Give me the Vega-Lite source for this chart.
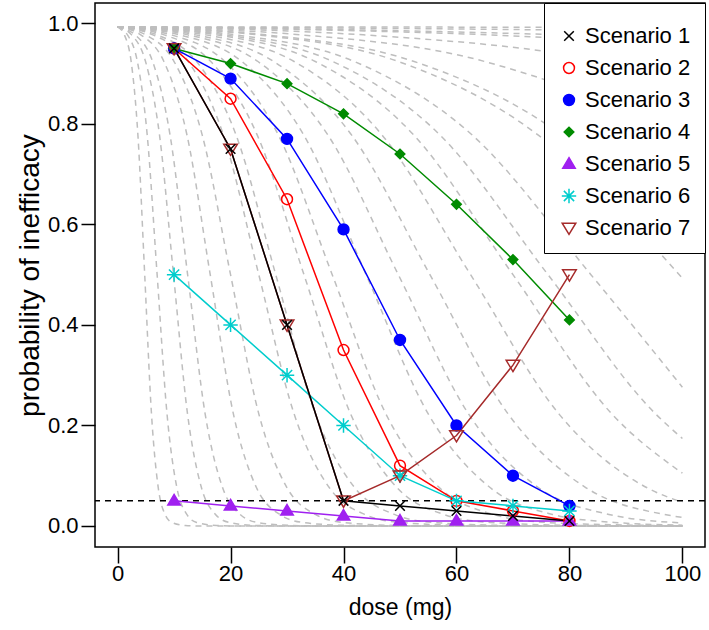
{
  "$schema": "https://vega.github.io/schema/vega-lite/v6.json",
  "width": 610,
  "height": 544,
  "autosize": {"type": "none"},
  "padding": {"left": 95, "top": 3, "right": 4, "bottom": 83},
  "background": "white",
  "config": {
    "font": "Liberation Sans",
    "view": {"stroke": "black", "strokeWidth": 1.5},
    "axis": {"grid": false, "domain": false, "tickColor": "black", "tickWidth": 1.5, "labelColor": "black", "titleColor": "black", "labelFont": "Liberation Sans", "titleFont": "Liberation Sans", "labelFontSize": 22, "titleFontSize": 23, "titleFontWeight": "normal"}
  },
  "datasets": {
    "curves": [
      {"c":"A","d":0,"p":0.993},{"c":"A","d":1.2,"p":0.977},{"c":"A","d":2.4,"p":0.924},{"c":"A","d":3.6,"p":0.777},{"c":"A","d":4.8,"p":0.5},{"c":"A","d":6,"p":0.223},{"c":"A","d":7.2,"p":0.076},{"c":"A","d":8.4,"p":0.023},{"c":"A","d":9.6,"p":0.007},{"c":"A","d":12,"p":0.001},{"c":"A","d":14.4,"p":0.0001},{"c":"A","d":100,"p":0},
      {"c":"B","d":0,"p":0.993},{"c":"B","d":1.75,"p":0.977},{"c":"B","d":3.5,"p":0.924},{"c":"B","d":5.25,"p":0.777},{"c":"B","d":7,"p":0.5},{"c":"B","d":8.75,"p":0.223},{"c":"B","d":10.5,"p":0.076},{"c":"B","d":12.25,"p":0.023},{"c":"B","d":14,"p":0.007},{"c":"B","d":17.5,"p":0.001},{"c":"B","d":21,"p":0.0001},{"c":"B","d":100,"p":0},
      {"c":"C","d":0,"p":0.993},{"c":"C","d":2.48,"p":0.977},{"c":"C","d":4.95,"p":0.924},{"c":"C","d":7.43,"p":0.777},{"c":"C","d":9.9,"p":0.5},{"c":"C","d":12.38,"p":0.223},{"c":"C","d":14.85,"p":0.076},{"c":"C","d":17.33,"p":0.023},{"c":"C","d":19.8,"p":0.007},{"c":"C","d":24.75,"p":0.001},{"c":"C","d":29.7,"p":0.0001},{"c":"C","d":100,"p":0},
      {"c":"D","d":0,"p":0.993},{"c":"D","d":3.1,"p":0.977},{"c":"D","d":6.2,"p":0.924},{"c":"D","d":9.3,"p":0.777},{"c":"D","d":12.4,"p":0.5},{"c":"D","d":15.5,"p":0.223},{"c":"D","d":18.6,"p":0.076},{"c":"D","d":21.7,"p":0.023},{"c":"D","d":24.8,"p":0.007},{"c":"D","d":31,"p":0.001},{"c":"D","d":37.2,"p":0.0001},{"c":"D","d":100,"p":0},
      {"c":"E","d":0,"p":0.993},{"c":"E","d":4.1,"p":0.977},{"c":"E","d":8.2,"p":0.924},{"c":"E","d":12.3,"p":0.777},{"c":"E","d":16.4,"p":0.5},{"c":"E","d":20.5,"p":0.223},{"c":"E","d":24.6,"p":0.076},{"c":"E","d":28.7,"p":0.023},{"c":"E","d":32.8,"p":0.007},{"c":"E","d":41,"p":0.001},{"c":"E","d":49.2,"p":0.0001},{"c":"E","d":100,"p":0},
      {"c":"F","d":0,"p":0.993},{"c":"F","d":5,"p":0.977},{"c":"F","d":10,"p":0.924},{"c":"F","d":15,"p":0.777},{"c":"F","d":20,"p":0.5},{"c":"F","d":25,"p":0.223},{"c":"F","d":30,"p":0.076},{"c":"F","d":35,"p":0.023},{"c":"F","d":40,"p":0.007},{"c":"F","d":50,"p":0.001},{"c":"F","d":60,"p":0.0001},{"c":"F","d":100,"p":0},
      {"c":"G","d":0,"p":0.993},{"c":"G","d":6.25,"p":0.977},{"c":"G","d":12.5,"p":0.924},{"c":"G","d":18.75,"p":0.777},{"c":"G","d":25,"p":0.5},{"c":"G","d":31.25,"p":0.223},{"c":"G","d":37.5,"p":0.076},{"c":"G","d":43.75,"p":0.023},{"c":"G","d":50,"p":0.007},{"c":"G","d":62.5,"p":0.001},{"c":"G","d":75,"p":0.0001},{"c":"G","d":100,"p":0},
      {"c":"H","d":0,"p":0.993},{"c":"H","d":7,"p":0.977},{"c":"H","d":14,"p":0.924},{"c":"H","d":21,"p":0.777},{"c":"H","d":28,"p":0.5},{"c":"H","d":35,"p":0.223},{"c":"H","d":42,"p":0.076},{"c":"H","d":49,"p":0.023},{"c":"H","d":56,"p":0.007},{"c":"H","d":70,"p":0.001},{"c":"H","d":84,"p":0.0001},{"c":"H","d":100,"p":0},
      {"c":"I","d":0,"p":0.993},{"c":"I","d":8.25,"p":0.977},{"c":"I","d":16.5,"p":0.924},{"c":"I","d":24.75,"p":0.777},{"c":"I","d":33,"p":0.5},{"c":"I","d":41.25,"p":0.223},{"c":"I","d":49.5,"p":0.076},{"c":"I","d":57.75,"p":0.023},{"c":"I","d":66,"p":0.007},{"c":"I","d":82.5,"p":0.001},{"c":"I","d":100,"p":0.0001},
      {"c":"J","d":0,"p":0.993},{"c":"J","d":9.5,"p":0.977},{"c":"J","d":19,"p":0.924},{"c":"J","d":28.5,"p":0.777},{"c":"J","d":38,"p":0.5},{"c":"J","d":47.5,"p":0.223},{"c":"J","d":57,"p":0.076},{"c":"J","d":66.5,"p":0.023},{"c":"J","d":76,"p":0.007},{"c":"J","d":95,"p":0.001},{"c":"J","d":100,"p":0.0003},
      {"c":"K","d":0,"p":0.993},{"c":"K","d":11,"p":0.977},{"c":"K","d":22,"p":0.924},{"c":"K","d":33,"p":0.777},{"c":"K","d":44,"p":0.5},{"c":"K","d":55,"p":0.223},{"c":"K","d":66,"p":0.076},{"c":"K","d":77,"p":0.023},{"c":"K","d":88,"p":0.007},{"c":"K","d":100,"p":0.0017},
      {"c":"L","d":0,"p":0.993},{"c":"L","d":12.43,"p":0.977},{"c":"L","d":24.85,"p":0.924},{"c":"L","d":37.28,"p":0.777},{"c":"L","d":49.7,"p":0.5},{"c":"L","d":62.13,"p":0.223},{"c":"L","d":74.55,"p":0.076},{"c":"L","d":86.98,"p":0.023},{"c":"L","d":100,"p":0.006},
      {"c":"M","d":0,"p":0.993},{"c":"M","d":13.83,"p":0.977},{"c":"M","d":27.65,"p":0.924},{"c":"M","d":41.48,"p":0.777},{"c":"M","d":55.3,"p":0.5},{"c":"M","d":69.13,"p":0.223},{"c":"M","d":82.95,"p":0.076},{"c":"M","d":96.78,"p":0.023},{"c":"M","d":100,"p":0.017},
      {"c":"N","d":0,"p":0.993},{"c":"N","d":15.63,"p":0.977},{"c":"N","d":31.25,"p":0.924},{"c":"N","d":46.88,"p":0.777},{"c":"N","d":62.5,"p":0.5},{"c":"N","d":78.13,"p":0.223},{"c":"N","d":93.75,"p":0.076},{"c":"N","d":100,"p":0.047},
      {"c":"O","d":0,"p":0.993},{"c":"O","d":17.5,"p":0.977},{"c":"O","d":35,"p":0.924},{"c":"O","d":52.5,"p":0.777},{"c":"O","d":70,"p":0.5},{"c":"O","d":87.5,"p":0.223},{"c":"O","d":100,"p":0.105},
      {"c":"P","d":0,"p":0.993},{"c":"P","d":19.05,"p":0.977},{"c":"P","d":38.1,"p":0.924},{"c":"P","d":57.15,"p":0.777},{"c":"P","d":76.2,"p":0.5},{"c":"P","d":95.25,"p":0.223},{"c":"P","d":100,"p":0.174},
      {"c":"Q","d":0,"p":0.993},{"c":"Q","d":20.95,"p":0.977},{"c":"Q","d":41.9,"p":0.924},{"c":"Q","d":62.85,"p":0.777},{"c":"Q","d":83.8,"p":0.5},{"c":"Q","d":100,"p":0.276},
      {"c":"R","d":0,"p":0.993},{"c":"R","d":24.85,"p":0.977},{"c":"R","d":49.7,"p":0.924},{"c":"R","d":74.55,"p":0.777},{"c":"R","d":100,"p":0.493},
      {"c":"S","d":0,"p":0.993},{"c":"S","d":26.25,"p":0.977},{"c":"S","d":52.5,"p":0.924},{"c":"S","d":78.75,"p":0.777},{"c":"S","d":100,"p":0.559},
      {"c":"T","d":0,"p":0.993},{"c":"T","d":32.5,"p":0.977},{"c":"T","d":65,"p":0.924},{"c":"T","d":97.5,"p":0.777},{"c":"T","d":100,"p":0.76},
      {"c":"U","d":0,"p":0.993},{"c":"U","d":43.5,"p":0.977},{"c":"U","d":87,"p":0.924},{"c":"U","d":100,"p":0.893},
      {"c":"V","d":0,"p":0.993},{"c":"V","d":32.9,"p":0.9876},{"c":"V","d":65.75,"p":0.977},{"c":"V","d":100,"p":0.957},
      {"c":"W","d":0,"p":0.993},{"c":"W","d":39.25,"p":0.9876},{"c":"W","d":78.5,"p":0.977},{"c":"W","d":100,"p":0.968},
      {"c":"X","d":0,"p":0.993},{"c":"X","d":50,"p":0.9897},{"c":"X","d":100,"p":0.984},
      {"c":"Y","d":0,"p":0.993},{"c":"Y","d":100,"p":0.992}
    ],
    "scen": [
      {"s":"Scenario 2","d":10,"p":0.95},{"s":"Scenario 2","d":20,"p":0.85},{"s":"Scenario 2","d":30,"p":0.65},{"s":"Scenario 2","d":40,"p":0.35},{"s":"Scenario 2","d":50,"p":0.12},{"s":"Scenario 2","d":60,"p":0.05},{"s":"Scenario 2","d":70,"p":0.03},{"s":"Scenario 2","d":80,"p":0.01},
      {"s":"Scenario 3","d":10,"p":0.95},{"s":"Scenario 3","d":20,"p":0.89},{"s":"Scenario 3","d":30,"p":0.77},{"s":"Scenario 3","d":40,"p":0.59},{"s":"Scenario 3","d":50,"p":0.37},{"s":"Scenario 3","d":60,"p":0.20},{"s":"Scenario 3","d":70,"p":0.10},{"s":"Scenario 3","d":80,"p":0.04},
      {"s":"Scenario 4","d":10,"p":0.95},{"s":"Scenario 4","d":20,"p":0.92},{"s":"Scenario 4","d":30,"p":0.88},{"s":"Scenario 4","d":40,"p":0.82},{"s":"Scenario 4","d":50,"p":0.74},{"s":"Scenario 4","d":60,"p":0.64},{"s":"Scenario 4","d":70,"p":0.53},{"s":"Scenario 4","d":80,"p":0.41},
      {"s":"Scenario 5","d":10,"p":0.05},{"s":"Scenario 5","d":20,"p":0.04},{"s":"Scenario 5","d":30,"p":0.03},{"s":"Scenario 5","d":40,"p":0.02},{"s":"Scenario 5","d":50,"p":0.01},{"s":"Scenario 5","d":60,"p":0.01},{"s":"Scenario 5","d":70,"p":0.01},{"s":"Scenario 5","d":80,"p":0.01},
      {"s":"Scenario 6","d":10,"p":0.50},{"s":"Scenario 6","d":20,"p":0.40},{"s":"Scenario 6","d":30,"p":0.30},{"s":"Scenario 6","d":40,"p":0.20},{"s":"Scenario 6","d":50,"p":0.10},{"s":"Scenario 6","d":60,"p":0.05},{"s":"Scenario 6","d":70,"p":0.04},{"s":"Scenario 6","d":80,"p":0.03},
      {"s":"Scenario 7","d":10,"p":0.95},{"s":"Scenario 7","d":20,"p":0.75},{"s":"Scenario 7","d":30,"p":0.40},{"s":"Scenario 7","d":40,"p":0.05},{"s":"Scenario 7","d":50,"p":0.10},{"s":"Scenario 7","d":60,"p":0.18},{"s":"Scenario 7","d":70,"p":0.32},{"s":"Scenario 7","d":80,"p":0.50},
      {"s":"Scenario 1","d":10,"p":0.95},{"s":"Scenario 1","d":20,"p":0.75},{"s":"Scenario 1","d":30,"p":0.40},{"s":"Scenario 1","d":40,"p":0.05},{"s":"Scenario 1","d":50,"p":0.04},{"s":"Scenario 1","d":60,"p":0.03},{"s":"Scenario 1","d":70,"p":0.02},{"s":"Scenario 1","d":80,"p":0.01}
    ],
    "ref": [{"h": 0.05}]
  },
  "encoding": {
    "x": {"field": "d", "type": "quantitative", "scale": {"domain": [-4, 104], "nice": false, "zero": false},
          "axis": {"values": [0, 20, 40, 60, 80, 100], "tickSize": 16, "labelPadding": 0, "title": "dose (mg)", "titleX": 305, "titleY": 60, "titleBaseline": "middle"}},
    "y": {"field": "p", "type": "quantitative", "scale": {"domain": [-0.0418, 1.0404], "nice": false, "zero": false},
          "axis": {"values": [0, 0.2, 0.4, 0.6, 0.8, 1.0], "format": ".1f", "tickSize": 14, "labelPadding": 3, "title": "probability of inefficacy", "titleFontSize": 28, "titleX": -65, "titleY": 272, "titleBaseline": "middle", "titleAngle": -90}}
  },
  "layer": [
    {
      "data": {"name": "curves"},
      "mark": {"type": "line", "interpolate": "monotone", "color": "#BEBEBE", "strokeDash": [6, 5], "strokeWidth": 1.5, "clip": true},
      "encoding": {"detail": {"field": "c", "type": "nominal"}}
    },
    {
      "data": {"name": "ref"},
      "mark": {"type": "rule", "color": "black", "strokeDash": [6, 5], "strokeWidth": 1.5},
      "encoding": {"y": {"field": "h", "type": "quantitative"}, "x": null}
    },
    {
      "data": {"name": "scen"},
      "mark": {"type": "line", "strokeWidth": 1.5},
      "encoding": {
        "color": {"field": "s", "type": "nominal", "legend": null,
          "scale": {"domain": ["Scenario 7","Scenario 6","Scenario 5","Scenario 4","Scenario 3","Scenario 2","Scenario 1"],
                    "range": ["#A52A2A","#00CDCD","#A020F0","#008B00","#0000FF","#FF0000","#000000"]}}
      }
    },
    {
      "data": {"name": "scen"},
      "mark": {"type": "point", "size": 256, "strokeWidth": 1.5, "opacity": 1},
      "encoding": {
        "shape": {"field": "s", "type": "nominal", "title": " ",
          "scale": {"domain": ["Scenario 1","Scenario 2","Scenario 3","Scenario 4","Scenario 5","Scenario 6","Scenario 7"],
                    "range": ["M-0.6,-0.6L0.6,0.6M-0.6,0.6L0.6,-0.6",
                              "M0.68,0A0.68,0.68,0,1,1,-0.68,0A0.68,0.68,0,1,1,0.68,0Z",
                              "M0.68,0A0.68,0.68,0,1,1,-0.68,0A0.68,0.68,0,1,1,0.68,0Z",
                              "M0,-0.6L0.6,0L0,0.6L-0.6,0Z",
                              "M0,-0.8L0.78,0.52L-0.78,0.52Z",
                              "M-0.9,0L0.9,0M0,-0.9L0,0.9M-0.64,-0.64L0.64,0.64M-0.64,0.64L0.64,-0.64",
                              "M0,0.8L0.85,-0.6L-0.85,-0.6Z"]},
          "legend": {"orient": "top-right", "offset": 0, "padding": 14, "fillColor": "white", "strokeColor": "black",
                     "titleFontSize": 2, "titlePadding": 6,
                     "labelFontSize": 22, "labelFont": "Liberation Sans", "labelColor": "black", "symbolSize": 256, "symbolStrokeWidth": 1.5,
                     "rowPadding": 10, "symbolOffset": 0, "labelOffset": 5, "labelLimit": 300}},
        "stroke": {"field": "s", "type": "nominal", "title": " ",
          "scale": {"domain": ["Scenario 1","Scenario 2","Scenario 3","Scenario 4","Scenario 5","Scenario 6","Scenario 7"],
                    "range": ["#000000","#FF0000","#0000FF","#008B00","#A020F0","#00CDCD","#A52A2A"]}},
        "fill": {"field": "s", "type": "nominal", "title": " ",
          "scale": {"domain": ["Scenario 1","Scenario 2","Scenario 3","Scenario 4","Scenario 5","Scenario 6","Scenario 7"],
                    "range": ["transparent","transparent","#0000FF","#008B00","#A020F0","transparent","transparent"]}}
      }
    }
  ]
}
